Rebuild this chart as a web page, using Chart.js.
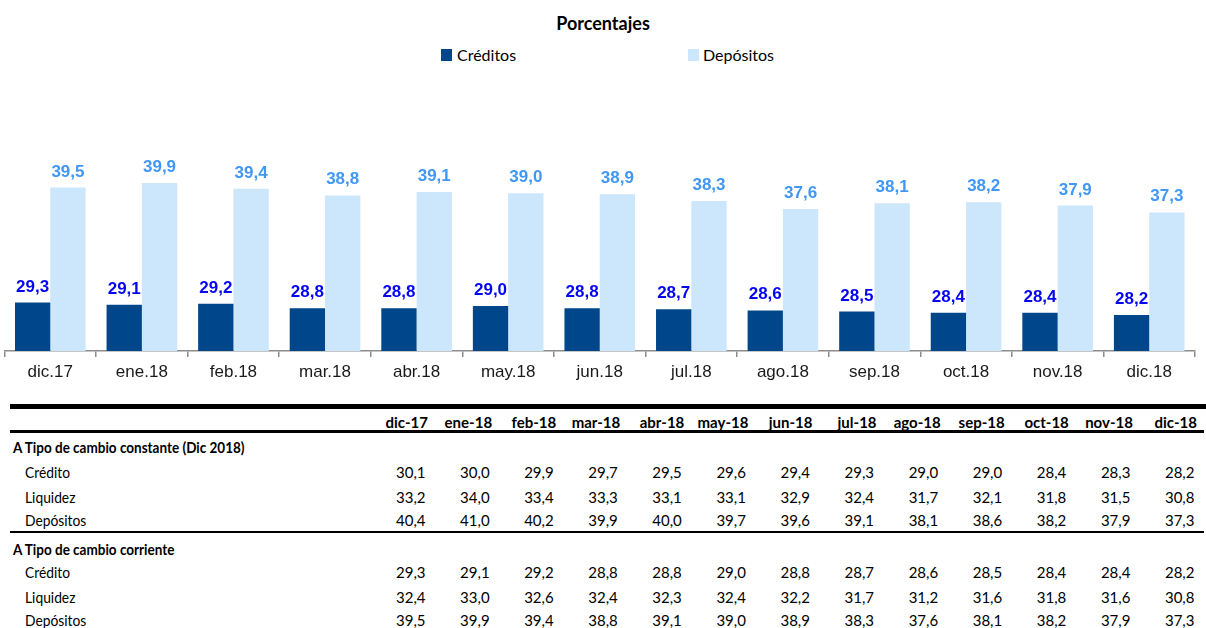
<!DOCTYPE html>
<html><head><meta charset="utf-8">
<script src="https://cdn.jsdelivr.net/npm/chart.js@4.4.1/dist/chart.umd.min.js"></script>
<style>
html,body{margin:0;padding:0;background:#fff;width:1206px;height:628px;overflow:hidden;}
#wrap{position:relative;width:1206px;height:628px;}
#chartBox{position:absolute;left:0;top:0;width:1206px;height:395px;}
.t{position:absolute;white-space:nowrap;line-height:20px;height:20px;color:#000;}
.lbl{font-family:Lato,sans-serif;font-size:15px;transform:scaleX(0.92);transform-origin:left center;}
.sec{font-family:Lato,sans-serif;font-size:15px;font-weight:bold;transform:scaleX(0.9);transform-origin:left center;}
.hdr{font-family:Lato,sans-serif;font-size:15px;font-weight:bold;}
.num{font-family:Lato,sans-serif;font-size:15px;}
.rule{position:absolute;background:#000;}
#title{position:absolute;left:0;width:1206px;top:12px;text-align:center;font-family:Lato,sans-serif;font-weight:bold;font-size:18px;line-height:22px;color:#000;}
.lg-box{position:absolute;width:11px;height:12px;}
.lg-txt{position:absolute;font-family:Lato,sans-serif;font-size:16px;line-height:20px;color:#000;white-space:nowrap;}
</style></head><body>
<div id="wrap">
 <div id="title">Porcentajes</div>
 <div id="legend"></div>
 <div id="chartBox"><canvas id="c" width="1206" height="395"></canvas></div>
 <div id="table"></div>
</div>
<script>
// ---- chart data ----
const categories = ['dic.17','ene.18','feb.18','mar.18','abr.18','may.18','jun.18','jul.18','ago.18','sep.18','oct.18','nov.18','dic.18'];
const creditos  = [29.3,29.1,29.2,28.8,28.8,29.0,28.8,28.7,28.6,28.5,28.4,28.4,28.2];
const depositos = [39.5,39.9,39.4,38.8,39.1,39.0,38.9,38.3,37.6,38.1,38.2,37.9,37.3];
const seriesNames = ['Créditos','Depósitos'];

// ---- table data ----
const tableCols = ['dic-17','ene-18','feb-18','mar-18','abr-18','may-18','jun-18','jul-18','ago-18','sep-18','oct-18','nov-18','dic-18'];
const sectionConst = 'A Tipo de cambio constante (Dic 2018)';
const sectionCorr = 'A Tipo de cambio corriente';
const rowNames = ['Crédito','Liquidez','Depósitos'];
const constCredito   = [30.1,30.0,29.9,29.7,29.5,29.6,29.4,29.3,29.0,29.0,28.4,28.3,28.2];
const constLiquidez  = [33.2,34.0,33.4,33.3,33.1,33.1,32.9,32.4,31.7,32.1,31.8,31.5,30.8];
const constDepositos = [40.4,41.0,40.2,39.9,40.0,39.7,39.6,39.1,38.1,38.6,38.2,37.9,37.3];
const corrCredito    = [29.3,29.1,29.2,28.8,28.8,29.0,28.8,28.7,28.6,28.5,28.4,28.4,28.2];
const corrLiquidez   = [32.4,33.0,32.6,32.4,32.3,32.4,32.2,31.7,31.2,31.6,31.8,31.6,30.8];
const corrDepositos  = [39.5,39.9,39.4,38.8,39.1,39.0,38.9,38.3,37.6,38.1,38.2,37.9,37.3];

const fmt = v => v.toFixed(1).replace('.', ',');

// ---- value labels plugin ----
const valueLabels = {
  id: 'valueLabels',
  afterDatasetsDraw(chart) {
    const ctx = chart.ctx;
    chart.data.datasets.forEach((ds, i) => {
      const meta = chart.getDatasetMeta(i);
      ctx.save();
      ctx.font = 'bold 17px "Liberation Sans", Arial, sans-serif';
      ctx.fillStyle = ds.labelColor;
      ctx.textAlign = 'center';
      ctx.textBaseline = 'alphabetic';
      meta.data.forEach((bar, j) => {
        ctx.fillText(fmt(ds.data[j]), bar.x, bar.y - 11);
      });
      ctx.restore();
    });
  }
};

const chart = new Chart(document.getElementById('c'), {
  type: 'bar',
  data: {
    labels: categories,
    datasets: [
      { label: seriesNames[0], data: creditos, backgroundColor: '#00468b', labelColor: '#0505f5' },
      { label: seriesNames[1], data: depositos, backgroundColor: '#cce6fc', labelColor: '#4197f5' }
    ]
  },
  options: {
    responsive: false,
    maintainAspectRatio: false,
    animation: false,
    layout: { padding: { left: 4.5, right: 11, top: 125.6, bottom: 0 } },
    plugins: { legend: { display: false }, title: { display: false }, tooltip: { enabled: false } },
    datasets: { bar: { barPercentage: 1, categoryPercentage: 0.771 } },
    scales: {
      x: {
        grid: { display: true, offset: true, drawOnChartArea: false, drawTicks: true, tickLength: 6, color: '#8c8c8c', lineWidth: 1.5 },
        border: { display: true, color: '#8c8c8c', width: 1.5 },
        ticks: { font: { family: '"Liberation Sans", Arial, sans-serif', size: 17 }, color: '#1a1a1a', padding: 5, maxRotation: 0, autoSkip: false },
        afterFit(s) { s.height = 44; }
      },
      y: { display: false, min: 25, max: 45 }
    }
  },
  plugins: [valueLabels]
});

// ---- legend (HTML, from datasets) ----
const legendPos = [{box: 441, txt: 457}, {box: 688, txt: 703}];
const legend = document.getElementById('legend');
chart.data.datasets.forEach((ds, i) => {
  const b = document.createElement('div');
  b.className = 'lg-box';
  b.style.left = legendPos[i].box + 'px'; b.style.top = '49px';
  b.style.background = ds.backgroundColor;
  legend.appendChild(b);
  const t = document.createElement('div');
  t.className = 'lg-txt';
  t.style.left = legendPos[i].txt + 'px'; t.style.top = '45px';
  t.textContent = ds.label;
  legend.appendChild(t);
});

// ---- table ----
const table = document.getElementById('table');
const firstColRight = 428, colStep = 64.08;
const headerRight = i => firstColRight + i * colStep;
const valueRight = i => firstColRight + i * colStep - 2.5;
function addText(text, cls, cy, left, right) {
  const d = document.createElement('div');
  d.className = 't ' + cls;
  d.style.top = (cy - 10) + 'px';
  if (left != null) d.style.left = left + 'px';
  if (right != null) { d.style.right = (1206 - right) + 'px'; d.style.textAlign = 'right'; }
  d.textContent = text;
  table.appendChild(d);
}
function addRule(top, h, left, right) {
  const r = document.createElement('div');
  r.className = 'rule';
  r.style.top = top + 'px'; r.style.height = h + 'px';
  r.style.left = left + 'px'; r.style.width = (right - left) + 'px';
  table.appendChild(r);
}
addRule(404, 5, 10, 1206);
tableCols.forEach((c, i) => addText(c, 'hdr', 421.7, null, headerRight(i)));
addRule(430, 3, 10, 1204);
const sections = [
  { title: sectionConst, cy: 446.7, rows: [constCredito, constLiquidez, constDepositos], rowCy: [472.3, 496.7, 520] },
  { title: sectionCorr,  cy: 549.3, rows: [corrCredito, corrLiquidez, corrDepositos],   rowCy: [571.7, 596.7, 620] }
];
sections.forEach(sec => {
  addText(sec.title, 'sec', sec.cy, 12.7, null);
  sec.rows.forEach((vals, r) => {
    addText(rowNames[r], 'lbl', sec.rowCy[r], 25, null);
    vals.forEach((v, i) => addText(fmt(v), 'num', sec.rowCy[r], null, valueRight(i)));
  });
});
addRule(530.5, 2.5, 10, 1204);
</script>
</body></html>
